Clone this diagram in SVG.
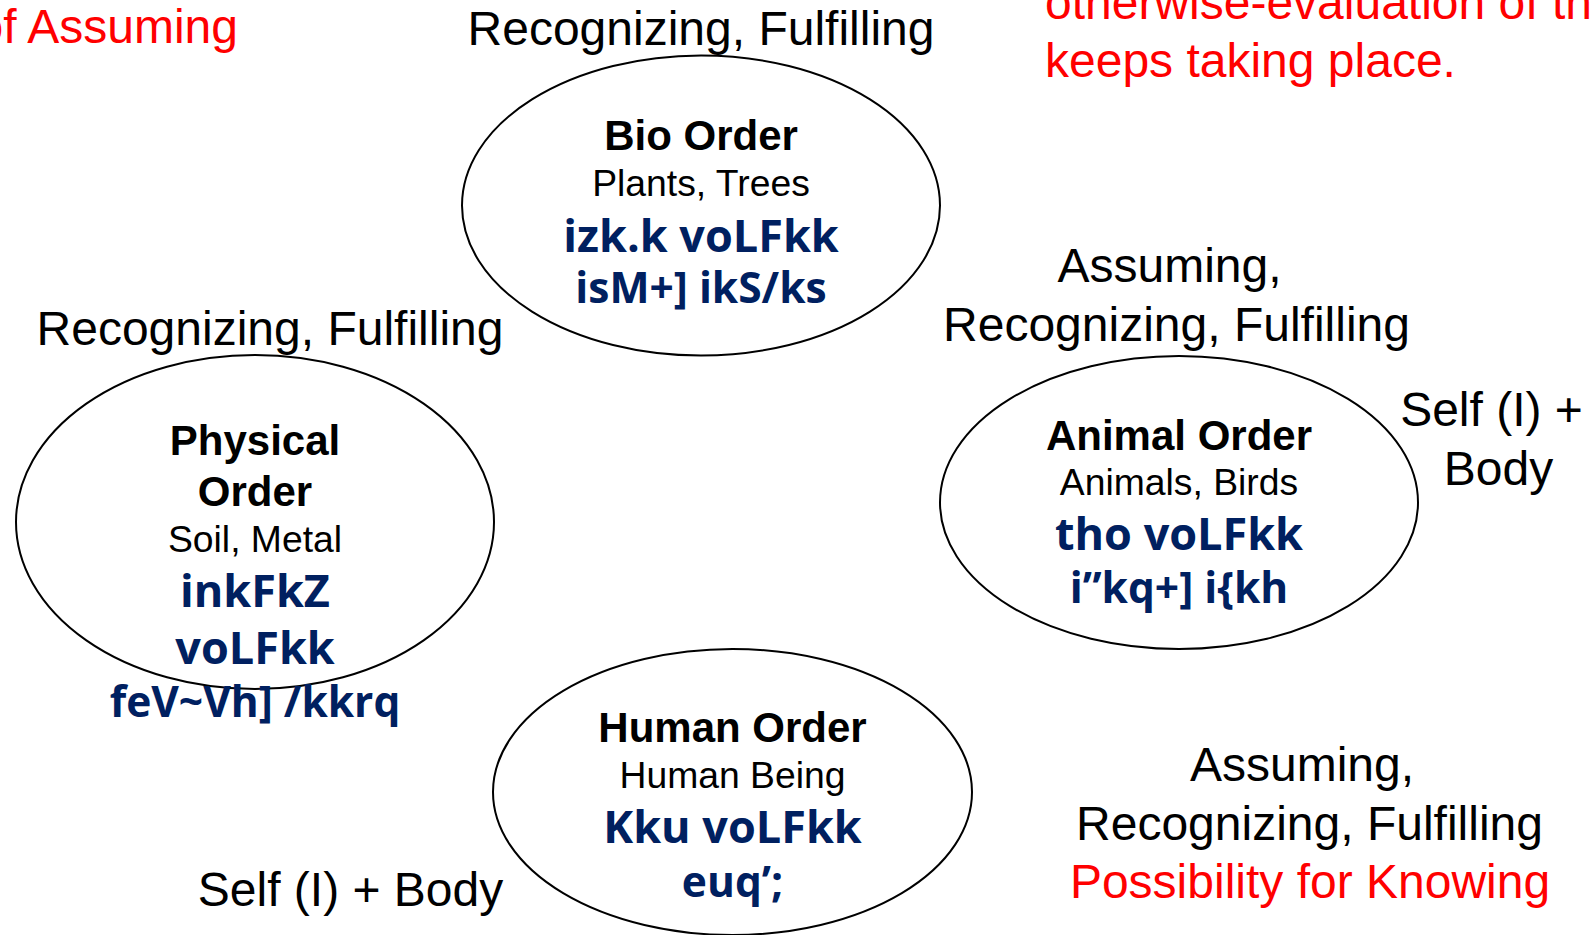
<svg xmlns="http://www.w3.org/2000/svg" width="1591" height="935" viewBox="0 0 1591 935">
<style>
.bg{fill:#ffffff}
.ell{fill:#ffffff;stroke:#000000;stroke-width:2}
.lbl{font-family:"Liberation Sans",Arial,sans-serif;font-size:48px;fill:#000000;text-anchor:middle}
.red{fill:#ff0000}
.ttl{font-family:"Liberation Sans",Arial,sans-serif;font-size:42px;font-weight:bold;fill:#000000;text-anchor:middle}
.sub{font-family:"Liberation Sans",Arial,sans-serif;font-size:37.3px;fill:#000000;text-anchor:middle}
.hin{font-family:"Open Sans","Noto Sans",sans-serif;font-weight:bold;fill:#002060;text-anchor:middle}
.h1{font-size:45px}
.h2{font-size:42.5px}
</style>
<rect class="bg" x="0" y="0" width="1591" height="935"/>
<g id="connectors"></g>
<g id="labels">
<text class="lbl red" x="238" y="43" style="text-anchor:end">of Assuming</text>
<text class="lbl red" x="1045" y="19" style="text-anchor:start">otherwise-evaluation of th</text>
<text class="lbl red" x="1045" y="77" style="text-anchor:start">keeps taking place.</text>
<text class="lbl" x="701" y="45">Recognizing, Fulfilling</text>
<text class="lbl" x="270" y="345">Recognizing, Fulfilling</text>
<text class="lbl" x="1169.5" y="282">Assuming,</text>
<text class="lbl" x="1176.5" y="341">Recognizing, Fulfilling</text>
<text class="lbl" x="1491.5" y="426">Self (I) +</text>
<text class="lbl" x="1498.5" y="485">Body</text>
<text class="lbl" x="350.5" y="906">Self (I) + Body</text>
<text class="lbl" x="1302" y="781">Assuming,</text>
<text class="lbl" x="1309.5" y="840">Recognizing, Fulfilling</text>
<text class="lbl red" x="1310" y="898">Possibility for Knowing</text>
</g>
<g id="bio-order">
<ellipse class="ell" cx="701" cy="205.5" rx="239" ry="150"/>
<text class="ttl" x="701" y="150">Bio Order</text>
<text class="sub" x="701" y="196">Plants, Trees</text>
<text class="hin h1" x="701" y="252">izk.k voLFkk</text>
<text class="hin h2" x="701" y="303">isM+] ikS/ks</text>
</g>
<g id="physical-order">
<ellipse class="ell" cx="255" cy="522" rx="239" ry="167"/>
<text class="ttl" x="255" y="455">Physical</text>
<text class="ttl" x="255" y="506">Order</text>
<text class="sub" x="255" y="552">Soil, Metal</text>
<text class="hin h1" x="255" y="607">inkFkZ</text>
<text class="hin h1" x="255" y="664">voLFkk</text>
<text class="hin h2" x="255" y="717">feV~Vh] /kkrq</text>
</g>
<g id="animal-order">
<ellipse class="ell" cx="1179" cy="502.5" rx="239" ry="146.5"/>
<text class="ttl" x="1179" y="450">Animal Order</text>
<text class="sub" x="1179" y="495">Animals, Birds</text>
<text class="hin h1" x="1179" y="550">tho voLFkk</text>
<text class="hin h2" x="1179" y="603">i”kq+] i{kh</text>
</g>
<g id="human-order">
<ellipse class="ell" cx="732.5" cy="792" rx="239.5" ry="143"/>
<text class="ttl" x="732.5" y="742">Human Order</text>
<text class="sub" x="732.5" y="788">Human Being</text>
<text class="hin h1" x="732.5" y="843">Kku voLFkk</text>
<text class="hin h2" x="732.5" y="897">euq’;</text>
</g>
</svg>
